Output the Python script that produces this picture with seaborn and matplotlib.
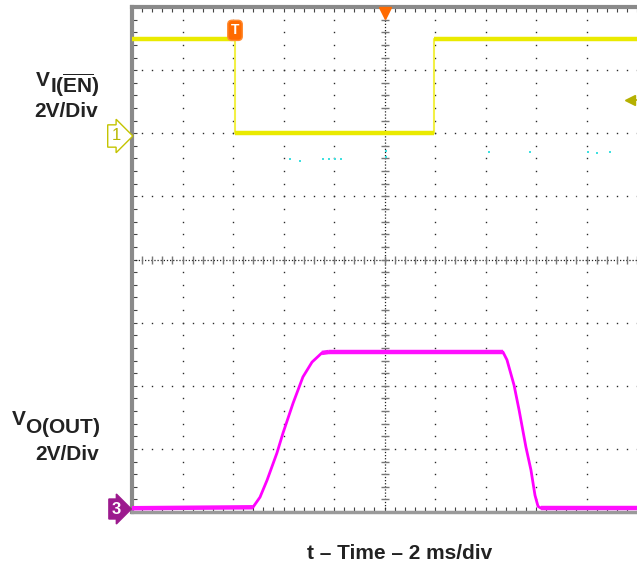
import numpy as np
import pandas as pd
import matplotlib
matplotlib.use("Agg")
import matplotlib.pyplot as plt
import seaborn as sns

# ch1 : enable input, time in ms, level in volts
en_t = [-10.0, -5.92, -5.92, 1.96, 1.96, 10.0]
en_v = [3.0, 3.0, 0.0, 0.0, 3.0, 3.0]

# ch3 : output voltage
out_t = [-10.0, -5.21, -4.93, -4.65, -4.26, -4.02, -3.62, -3.23, -2.87, -2.48, -2.2,
         4.69, 4.85, 5.13, 5.33, 5.60, 5.80, 5.96, 6.08, 6.20, 10.0]
out_v = [0.0, 0.03, 0.35, 0.89, 1.75, 2.38, 3.33, 4.16, 4.63, 4.92, 4.95,
         4.95, 4.70, 3.90, 3.11, 1.94, 1.21, 0.41, 0.06, 0.0, 0.0]

# stray ch2 specks (ms, divisions)
ch2_t = [-9.96, -9.96, -3.74, -3.35, -2.44, -2.2, -1.96, -1.72, 0.06, 0.06, 4.14, 5.76, 8.06, 8.4, 8.93]
ch2_div = [5.68, 5.58, 5.6, 5.56, 5.6, 5.6, 5.6, 5.6, 5.72, 5.62, 5.7, 5.7, 5.7, 5.68, 5.7]

volts_per_div = 2.0
en_offset = 6.0      # ch1 ground marker, divisions from bottom
out_offset = 0.06    # ch3 ground marker
trig_level = 6.52    # ch1 trigger level marker
trig_time = -5.92

W, H = 637, 565


def fx(x):
    return x / W


def fy(y):
    return 1 - y / H


sns.set_theme(style="white")
plt.rcParams["font.family"] = ["Liberation Sans", "DejaVu Sans"]
plt.rcParams["mathtext.fontset"] = "custom"
plt.rcParams["mathtext.rm"] = "Liberation Sans"
plt.rcParams["mathtext.bf"] = "Liberation Sans:bold"

fig = plt.figure(figsize=(W / 100, H / 100), dpi=100)
ax = fig.add_axes([fx(132), fy(512), 505 / W, 505 / H])
ax.set_xlim(-10, 10)
ax.set_ylim(0, 8)

# graticule: dotted major lines
minor_x = np.linspace(-10, 10, 51)
minor_y = np.linspace(0, 8, 41)
for gx in [-8, -6, -4, -2, 2, 4, 6, 8]:
    ax.plot(np.full_like(minor_y, gx), minor_y, ls="none", marker="s", ms=1.0,
            mew=0, color="#2a2a2a", zorder=1)
for gy in [1, 2, 3, 5, 6, 7]:
    ax.plot(minor_x, np.full_like(minor_x, gy), ls="none", marker="s", ms=1.0,
            mew=0, color="#2a2a2a", zorder=1)

# centre cross with ticks
ax.axvline(0, color="#222222", lw=0.9, ls=(0, (1, 1.5)), zorder=1)
ax.axhline(4, color="#222222", lw=0.9, ls=(0, (1, 1.5)), zorder=1)
ax.plot(np.zeros_like(minor_y), minor_y, ls="none", marker="_", ms=6, mew=1,
        color="#777777", zorder=1)
ax.plot(minor_x, np.full_like(minor_x, 4), ls="none", marker="|", ms=6, mew=1,
        color="#777777", zorder=1)

# edge ticks
ax.set_xticks(minor_x)
ax.set_yticks(minor_y)
ax.set_xticklabels([])
ax.set_yticklabels([])
ax.tick_params(direction="in", length=3.5, width=0.8, color="#444444",
               top=True, bottom=True, left=True, right=False)
for side in ["left", "top"]:
    ax.spines[side].set_color("#8a8a8a")
    ax.spines[side].set_linewidth(3)
ax.spines["bottom"].set_color("#9a9a9a")
ax.spines["bottom"].set_linewidth(2.5)
ax.spines["right"].set_visible(False)

# ch2 specks
ax.scatter(ch2_t, ch2_div, marker="s", s=3, color="#3fe0e0", lw=0, zorder=2)

# traces
en = pd.DataFrame({"t": en_t, "div": en_offset + np.array(en_v) / volts_per_div})
out = pd.DataFrame({"t": out_t, "div": out_offset + np.array(out_v) / volts_per_div})

sns.lineplot(data=en, x="t", y="div", sort=False, estimator=None, color="#f2f046",
             lw=1.5, ax=ax, zorder=3)
for i in range(len(en) - 1):
    if en["div"][i] == en["div"][i + 1]:
        ax.plot(en["t"][i:i + 2], en["div"][i:i + 2], color="#eaea00", lw=3.2,
                solid_capstyle="butt", zorder=3)

sns.lineplot(data=out, x="t", y="div", sort=False, estimator=None, color="#ff00ff",
             lw=2.0, ax=ax, zorder=3)
for i in range(len(out) - 1):
    if abs(out["div"][i] - out["div"][i + 1]) < 0.03:
        ax.plot(out["t"][i:i + 2], out["div"][i:i + 2], color="#ff10ff", lw=3.2,
                solid_capstyle="butt", zorder=3)
ax.set_xlabel("")
ax.set_ylabel("")

# markers
ax.plot([0], [7.9], marker="v", ms=8, color="#ff6a00", clip_on=False, zorder=5)
ax.plot([9.72], [trig_level], marker="<", ms=7, color="#b5b000", clip_on=False, zorder=5)
ax.plot([9.72, 10], [trig_level, trig_level], color="#b5b000", lw=1.2, clip_on=False, zorder=5)
ax.text(trig_time, 7.63, "T", color="white", fontsize=10, fontweight="bold",
        ha="center", va="center", zorder=6,
        bbox=dict(boxstyle="round,pad=0.22,rounding_size=0.3", fc="#ff6a00", ec="#ff8a30", lw=1))

fig.text(fx(116), fy(136), "1", color="#b8b800", fontsize=12, ha="center", va="center",
         bbox=dict(boxstyle="rarrow,pad=0.22", fc="white", ec="#c4c400", lw=1))
fig.text(fx(116), fy(509), "3", color="white", fontsize=12, fontweight="bold",
         ha="center", va="center",
         bbox=dict(boxstyle="rarrow,pad=0.15", fc="#9c1a8e", ec="#9c1a8e", lw=1))

# channel labels
ink = "#222222"
fig.text(fx(36), fy(86), "V", fontsize=15, fontweight="bold", color=ink, ha="left", va="baseline")
fig.text(fx(100), fy(93), r"$\mathbf{I(\overline{EN})}$", fontsize=15, color=ink,
         ha="right", va="baseline")
fig.text(fx(98), fy(117), "2V/Div", fontsize=15, fontweight="bold", color=ink,
         ha="right", va="baseline")

fig.text(fx(12), fy(425), "V", fontsize=15, fontweight="bold", color=ink, ha="left", va="baseline")
fig.text(fx(100), fy(433), r"$\mathbf{O(OUT)}$", fontsize=15, color=ink,
         ha="right", va="baseline")
fig.text(fx(99), fy(460), "2V/Div", fontsize=15, fontweight="bold", color=ink,
         ha="right", va="baseline")

fig.text(fx(400), fy(559), "t \u2013 Time \u2013 2 ms/div", fontsize=15, fontweight="bold",
         color=ink, ha="center", va="baseline")

fig.savefig("out.png", dpi=100, facecolor="white")
